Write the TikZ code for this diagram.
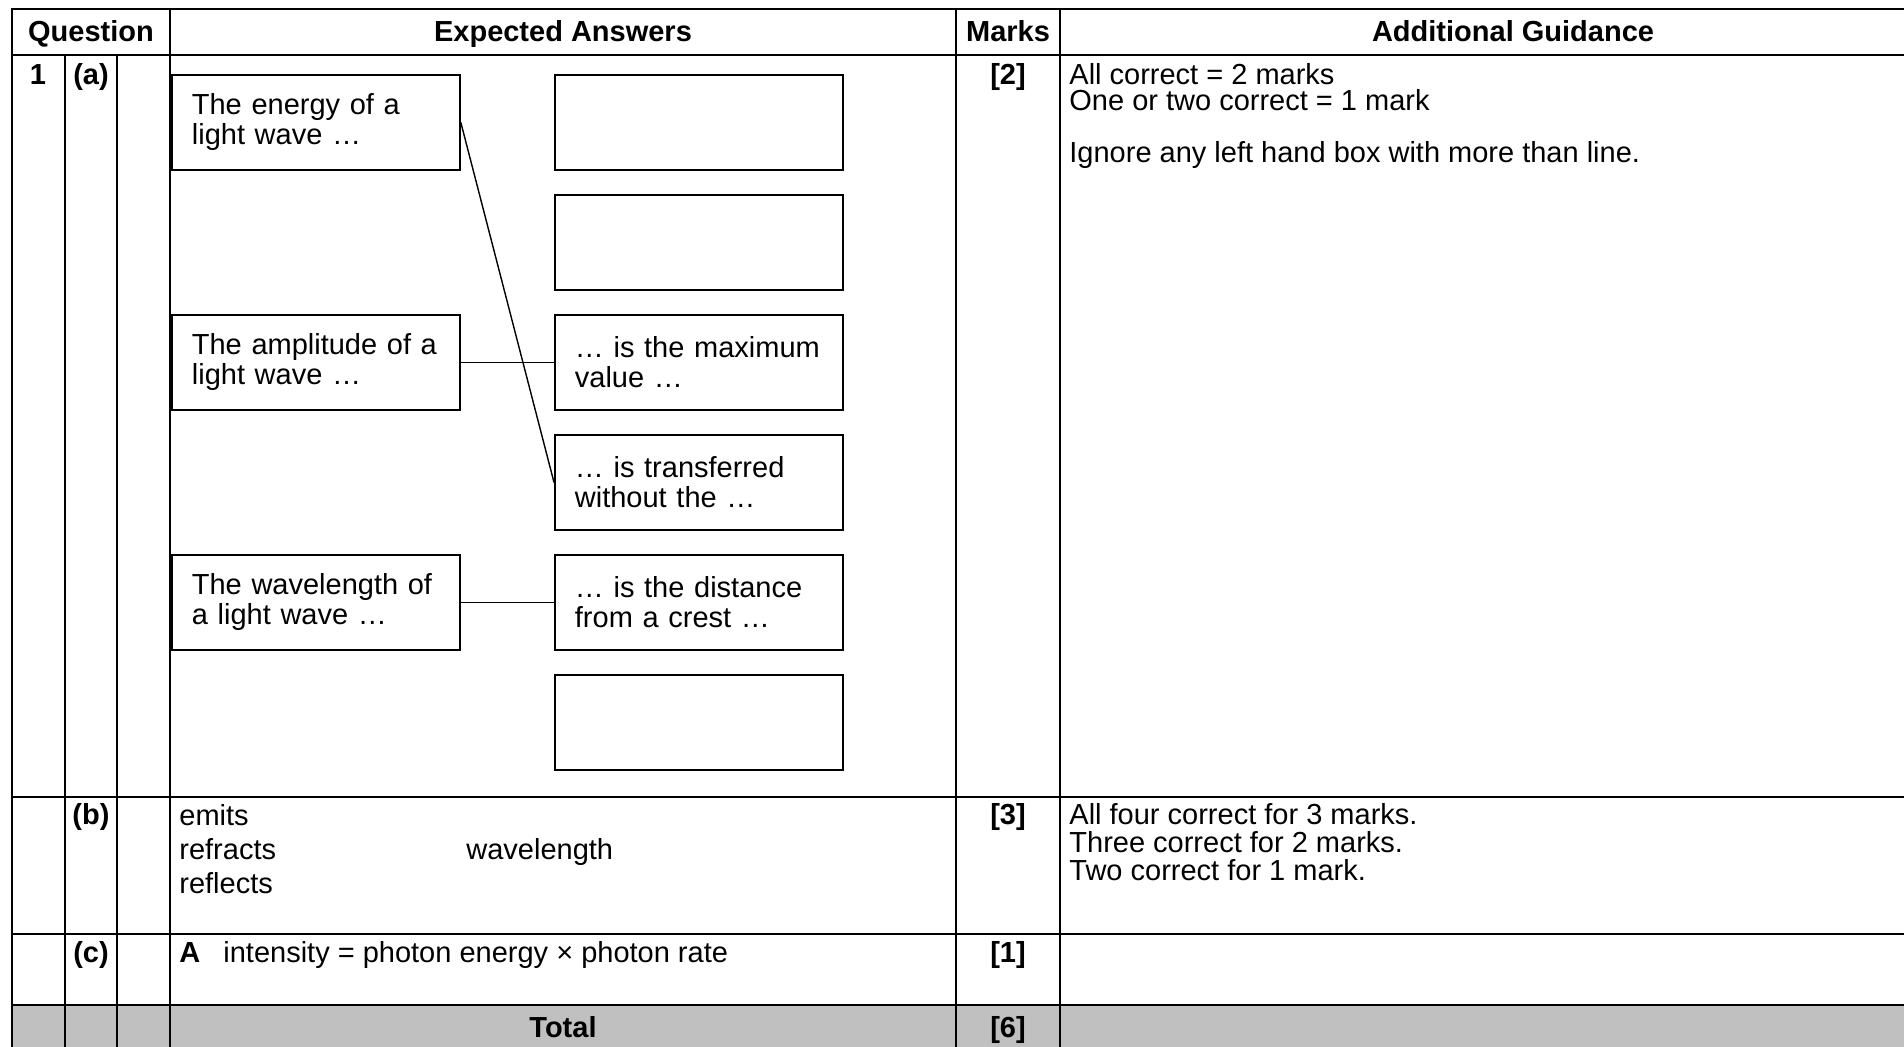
\documentclass[tikz,border=0pt]{standalone}
\usepackage{fontspec}
\setmainfont{Liberation Sans}
\usepackage{tikz}
\definecolor{totalgray}{RGB}{192,192,192}

\begin{document}
\begin{tikzpicture}[x=0.5pt, y=-0.5pt,
    txt/.style={font=\fontsize{14.5}{15}\selectfont, inner sep=0pt},
    hd/.style={font=\fontsize{14.5}{15}\selectfont\bfseries, inner sep=0pt, anchor=base},
    answer/.style={draw, line width=0.9pt, minimum width=144pt, minimum height=47.5pt,
      text width=124pt, align=left, inner xsep=10pt, inner ysep=0pt, anchor=north west,
      font=\fontsize{14.5}{15}\selectfont},
    wire/.style={line width=0.7pt},
    rule/.style={line width=1.4pt, line cap=rect},
    vrule/.style={line width=0.9pt}]

    \useasboundingbox (0,0) rectangle (1904,1047);
    \fill[totalgray] (12,1005) rectangle (1966,1070);
    \foreach \yy in {9,55,797,934,1005}
        \draw[rule] (12,\yy) -- (1966,\yy);
    \foreach \xx in {12,170,956,1060,1966}
        \draw[vrule] (\xx,9) -- (\xx,1070);
    \foreach \xx in {65,117}
        \draw[vrule] (\xx,55) -- (\xx,1070);

    \node[hd] (hq) at (91,42) {Question};
    \node[hd] (he) at (563,42) {Expected Answers};
    \node[hd] (hm) at (1008,42) {Marks};
    \node[hd] (hg) at (1513,42) {Additional Guidance};

    \node[hd] (q1) at (38,85) {1};
    \node[hd] (qa) at (91,85) {(a)};
    \node[hd] (qb) at (91,824) {(b)};
    \node[hd] (qc) at (91,962) {(c)};
    \node[hd] (ma) at (1008,85) {[2]};
    \node[hd] (mb) at (1008,824) {[3]};
    \node[hd] (mc) at (1008,962) {[1]};

    \node[answer] (energy) at (171,74) {The energy of a\\light wave …};
    \node[answer] (amplitude) at (171,314) {The amplitude of a\\light wave …};
    \node[answer] (wavelength) at (171,554) {The wavelength of\\a light wave …};
    \node[answer] (blanka) at (554,74) {};
    \node[answer] (blankb) at (554,194) {};
    \node[answer] (maximum) at (554,314) {… is the maximum\\value …};
    \node[answer] (transfer) at (554,434) {… is transferred\\without the …};
    \node[answer] (distance) at (554,554) {… is the distance\\from a crest …};
    \node[answer] (blankc) at (554,674) {};

    \draw[wire] (energy.east) -- (transfer.west);
    \draw[wire] (amplitude.east) -- (maximum.west);
    \draw[wire] (wavelength.east) -- (distance.west);

    \foreach \t/\yy [count=\i] in {All correct = 2 marks/85, One or two correct = 1 mark/111,
        Ignore any left hand box with more than line./163}
        \node[txt, anchor=base west] (ga\i) at (1069,\yy) {\t};

    \foreach \t [count=\i] in {emits, refracts, reflects}
        \node[txt, anchor=base west] (wb\i) at (179,791+34*\i) {\t};
    \node[txt, anchor=base west] (wbw) at (466,859) {wavelength};
    \foreach \t [count=\i] in {All four correct for 3 marks., Three correct for 2 marks.,
        Two correct for 1 mark.}
        \node[txt, anchor=base west] (gb\i) at (1069,796+28*\i) {\t};

    \node[hd, anchor=base west] (ca) at (179,962) {A};
    \node[txt, anchor=base west] (cc) at (223,962) {intensity = photon energy × photon rate};

    \node[hd] (tot) at (563,1037) {Total};
    \node[hd] (mt) at (1008,1037) {[6]};
\end{tikzpicture}
\end{document}
